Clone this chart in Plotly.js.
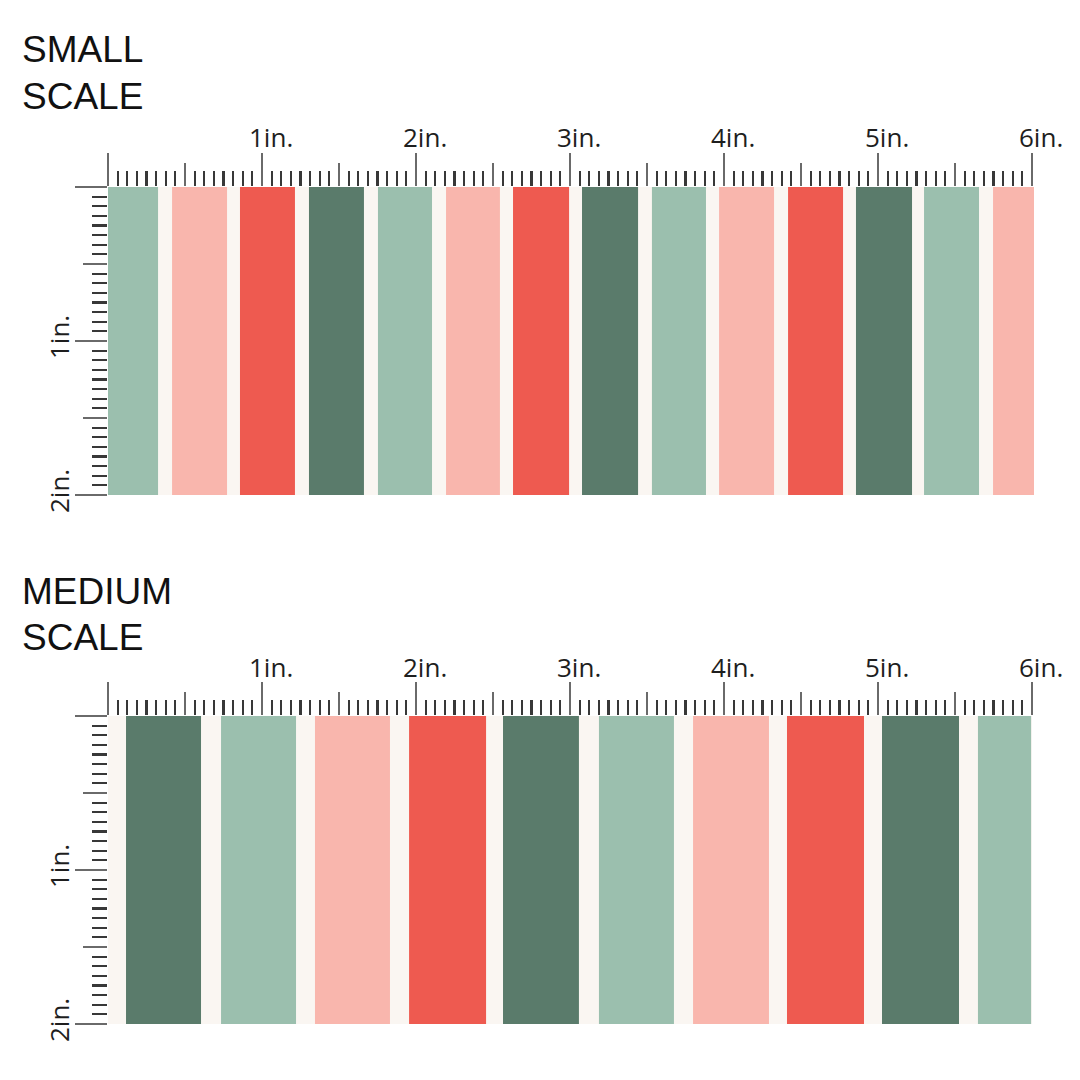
<!DOCTYPE html>
<html>
<head>
<meta charset="utf-8">
<script src="https://cdn.plot.ly/plotly-3.0.1.min.js"></script>
<style>html,body{margin:0;padding:0;background:#ffffff;}#chart{width:1080px;height:1080px;}</style>
</head>
<body>
<div id="chart"></div>
<script>
// ---- data (inches) ----
const palette = {mint: '#9BBFAE', pink: '#F9B6AD', red: '#EE5A50', dark: '#5A7B6B'};
const cream = '#FAF6F2';

const smallStart = [0.000, 0.416, 0.857, 1.305, 1.753, 2.195, 2.630, 3.078, 3.532, 3.968, 4.416, 4.857, 5.299, 5.747];
const smallEnd   = [0.325, 0.773, 1.214, 1.662, 2.104, 2.545, 2.994, 3.442, 3.883, 4.325, 4.773, 5.221, 5.656, 6.013];
const smallColor = ['mint','pink','red','dark','mint','pink','red','dark','mint','pink','red','dark','mint','pink'];

const mediumStart = [0.117, 0.734, 1.344, 1.955, 2.565, 3.188, 3.799, 4.409, 5.026, 5.649];
const mediumEnd   = [0.604, 1.221, 1.831, 2.455, 3.058, 3.675, 4.292, 4.909, 5.526, 5.994];
const mediumColor = ['dark','mint','pink','red','dark','mint','pink','red','dark','mint'];

const stripeHeight = 2; // inches (fabric swatch height)

const rulerXTicks = [1, 2, 3, 4, 5, 6];
const rulerXLabels = ['1in.', '2in.', '3in.', '4in.', '5in.', '6in.'];
const rulerYTicks = [1, 2];
const rulerYLabels = ['1in.', '2in.'];

const panelTitles = [['SMALL', 'SCALE'], ['MEDIUM', 'SCALE']];

// ---- helpers ----
const W = 1080, H = 1080;
const px = v => v / W;
const py = v => 1 - v / H;

function stripeTrace(starts, ends, colors, xa, ya) {
  return {
    type: 'bar',
    x: starts.map((s, i) => (s + ends[i]) / 2),
    width: starts.map((s, i) => ends[i] - s),
    y: starts.map(() => stripeHeight),
    base: starts.map(() => 0),
    marker: {color: colors.map(c => palette[c]), line: {width: 0}},
    xaxis: xa, yaxis: ya,
    hoverinfo: 'skip'
  };
}

const data = [
  stripeTrace(smallStart, smallEnd, smallColor, 'x', 'y'),
  stripeTrace(mediumStart, mediumEnd, mediumColor, 'x2', 'y2'),
  {type: 'scatter', x: [], y: [], xaxis: 'x3', yaxis: 'y', showlegend: false},
  {type: 'scatter', x: [], y: [], xaxis: 'x', yaxis: 'y3', showlegend: false},
  {type: 'scatter', x: [], y: [], xaxis: 'x4', yaxis: 'y2', showlegend: false},
  {type: 'scatter', x: [], y: [], xaxis: 'x2', yaxis: 'y4', showlegend: false}
];

const majorColor = '#6a6a6a';
const minorColor = '#383838';

function xMain(domain, range, anchor) {
  return {
    domain: domain, range: range, anchor: anchor, side: 'top',
    showgrid: false, zeroline: false, showline: false, fixedrange: true,
    showticklabels: false, ticks: 'outside', tick0: 0, dtick: 1,
    ticklen: 33, tickwidth: 2.8, tickcolor: majorColor,
    minor: {ticks: 'outside', tick0: 0, dtick: 0.0625, ticklen: 15, tickwidth: 2.1, tickcolor: minorColor, showgrid: false}
  };
}
function xHalf(over, range, anchor) {
  return {
    overlaying: over, range: range, anchor: anchor, side: 'top',
    showgrid: false, zeroline: false, showline: false, fixedrange: true,
    showticklabels: false, ticks: 'outside', tick0: 0, dtick: 0.5,
    ticklen: 23, tickwidth: 2.6, tickcolor: majorColor
  };
}
function yMain(domain, anchor) {
  return {
    domain: domain, range: [2, 0], anchor: anchor, side: 'left',
    showgrid: false, zeroline: false, showline: false, fixedrange: true,
    showticklabels: false, ticks: 'outside', tick0: 0, dtick: 1,
    ticklen: 32, tickwidth: 2.8, tickcolor: majorColor,
    minor: {ticks: 'outside', tick0: 0, dtick: 0.0625, ticklen: 15, tickwidth: 2.1, tickcolor: minorColor, showgrid: false}
  };
}
function yHalf(over, anchor) {
  return {
    overlaying: over, range: [2, 0], anchor: anchor, side: 'left',
    showgrid: false, zeroline: false, showline: false, fixedrange: true,
    showticklabels: false, ticks: 'outside', tick0: 0, dtick: 0.5,
    ticklen: 24, tickwidth: 2.6, tickcolor: majorColor
  };
}

const topDomY = [py(495), py(187)];
const botDomY = [py(1024), py(716)];

const annotations = [];
const labelFont = {family: 'Open Sans, sans-serif', size: 26, color: '#1e1e1e'};
const titleFont = {family: 'Liberation Sans, Arial, sans-serif', size: 37, color: '#111111'};

[['x', 137], ['x2', 667]].forEach(([xr, cy]) => {
  rulerXTicks.forEach((t, i) => {
    annotations.push({
      xref: xr, yref: 'paper', x: t, y: py(cy), xshift: 9,
      text: rulerXLabels[i], showarrow: false, xanchor: 'center', yanchor: 'middle', font: labelFont
    });
  });
});
['y', 'y2'].forEach(yr => {
  rulerYTicks.forEach((t, i) => {
    annotations.push({
      xref: 'paper', yref: yr, x: px(59), y: t, yshift: 4,
      text: rulerYLabels[i], showarrow: false, textangle: -90,
      xanchor: 'center', yanchor: 'middle', font: labelFont
    });
  });
});
[[50, 97], [591, 637]].forEach((ys, p) => {
  panelTitles[p].forEach((t, j) => {
    annotations.push({
      xref: 'paper', yref: 'paper', x: px(20), y: py(ys[j]),
      text: t, showarrow: false, xanchor: 'left', yanchor: 'middle', font: titleFont
    });
  });
});

const layout = {
  width: W, height: H,
  margin: {l: 0, r: 0, t: 0, b: 0, pad: 0},
  paper_bgcolor: '#ffffff', plot_bgcolor: cream,
  showlegend: false, barmode: 'overlay',
  xaxis: xMain([px(108), px(1034)], [0, 6.013], 'y'),
  xaxis3: xHalf('x', [0, 6.013], 'y'),
  yaxis: yMain(topDomY, 'x'),
  yaxis3: yHalf('y', 'x'),
  xaxis2: xMain([px(108), px(1032)], [0, 6], 'y2'),
  xaxis4: xHalf('x2', [0, 6], 'y2'),
  yaxis2: yMain(botDomY, 'x2'),
  yaxis4: yHalf('y2', 'x2'),
  annotations: annotations
};

Plotly.newPlot('chart', data, layout, {displayModeBar: false, staticPlot: true});
</script>
</body>
</html>
